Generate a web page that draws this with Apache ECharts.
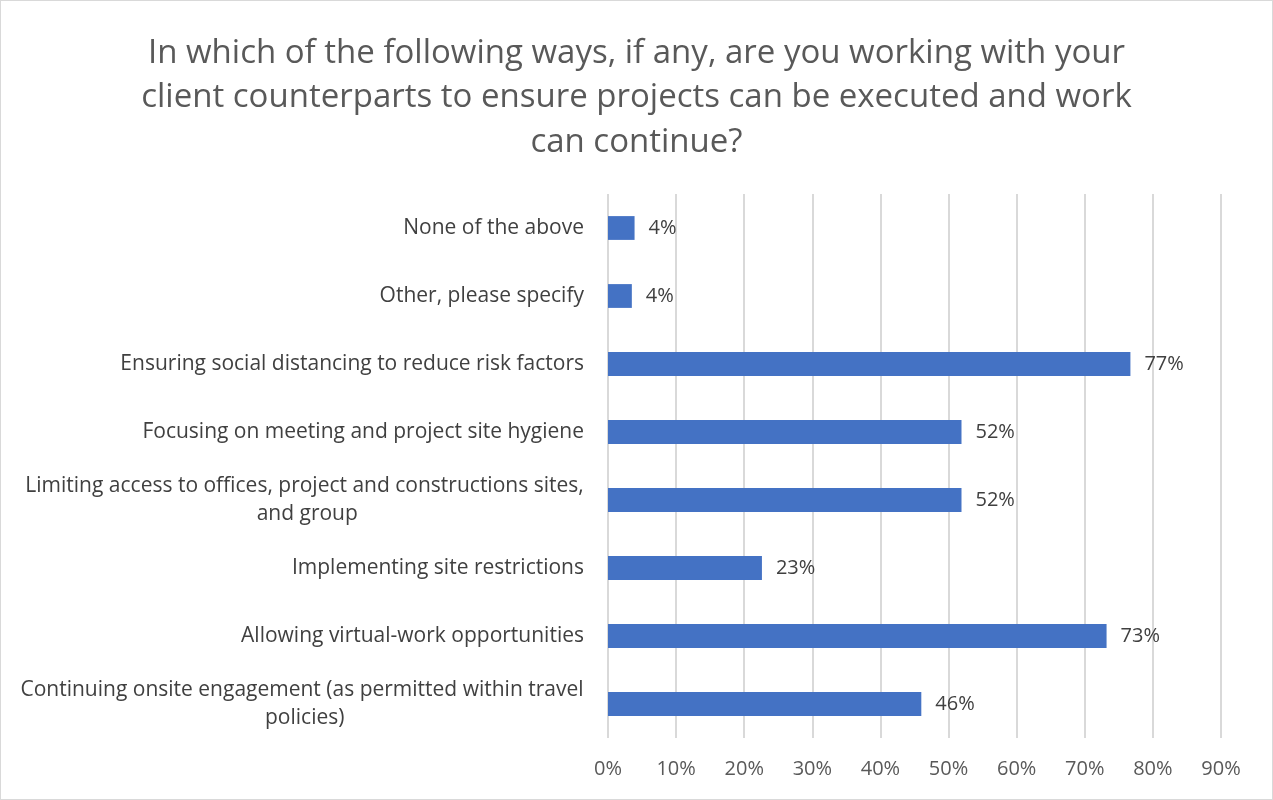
<!DOCTYPE html>
<html>
<head>
<meta charset="utf-8">
<script src="https://cdn.jsdelivr.net/npm/echarts@6/dist/echarts.min.js"></script>
<style>
html,body{margin:0;padding:0;background:#fff;}
#chart{width:1273px;height:800px;box-sizing:border-box;border:1px solid #d9d9d9;}
</style>
</head>
<body>
<div id="chart"></div>
<script>
const titleText = "In which of the following ways, if any, are you working with your\nclient counterparts to ensure projects can be executed and work\ncan continue?";
const categories = [
  "None of the above",
  "Other, please specify",
  "Ensuring social distancing to reduce risk factors",
  "Focusing on meeting and project site hygiene",
  "Limiting access to offices, project and constructions sites, and group",
  "Implementing site restrictions",
  "Allowing virtual-work opportunities",
  "Continuing onsite engagement (as permitted within travel policies)"
];
const values = [3.9, 3.5, 76.7, 51.9, 51.9, 22.6, 73.2, 46.0];
const xTicks = [0, 10, 20, 30, 40, 50, 60, 70, 80, 90];

const FONT = '"Open Sans"';
const LABEL_SIZE = 21;
const MAX_W = 575;

// word-wrap category names; wrapped labels are centred within their block
const ctx = document.createElement('canvas').getContext('2d');
ctx.font = LABEL_SIZE + 'px ' + FONT;
function wrap(text) {
  const words = text.split(' ');
  const lines = [];
  let cur = '';
  for (const w of words) {
    const t = cur ? cur + ' ' + w : w;
    if (ctx.measureText(t).width > MAX_W && cur) { lines.push(cur); cur = w; }
    else cur = t;
  }
  if (cur) lines.push(cur);
  return lines;
}
const yData = categories.map(c => {
  const lines = wrap(c);
  if (lines.length === 1) return c;
  const w = Math.ceil(Math.max(...lines.map(l => ctx.measureText(l).width)));
  return {value: c, textStyle: {align: 'center', padding: [0, w, 0, 0], width: w + 2, overflow: 'break'}};
});

const chart = echarts.init(document.getElementById('chart'), null, {renderer: 'canvas'});
chart.setOption({
  animation: false,
  backgroundColor: '#fff',
  title: {
    text: titleText,
    left: 'center',
    top: 25,
    textStyle: {fontFamily: FONT, fontSize: 33, fontWeight: 'normal', color: '#595959', lineHeight: 44.5}
  },
  grid: {left: 607, right: 51, top: 193, bottom: 61},
  xAxis: {
    type: 'value',
    min: xTicks[0],
    max: xTicks[xTicks.length - 1],
    interval: 10,
    axisLine: {show: false},
    axisTick: {show: false},
    splitLine: {show: true, lineStyle: {color: '#d9d9d9', width: 2}},
    axisLabel: {formatter: v => v + '%', fontFamily: FONT, fontSize: 20, color: '#595959', margin: 21}
  },
  yAxis: {
    type: 'category',
    inverse: true,
    data: yData,
    axisLine: {show: false},
    axisTick: {show: false},
    axisLabel: {
      fontFamily: FONT, fontSize: LABEL_SIZE, color: '#404040', margin: 24,
      width: MAX_W, overflow: 'break', lineHeight: 28, align: 'right'
    }
  },
  series: [{
    type: 'bar',
    data: values,
    barWidth: '35%',
    itemStyle: {color: '#4472C4'},
    label: {
      show: true, position: 'right', distance: 14,
      formatter: p => Math.round(p.value) + '%',
      fontFamily: FONT, fontSize: 20, color: '#404040'
    }
  }]
});
</script>
</body>
</html>
